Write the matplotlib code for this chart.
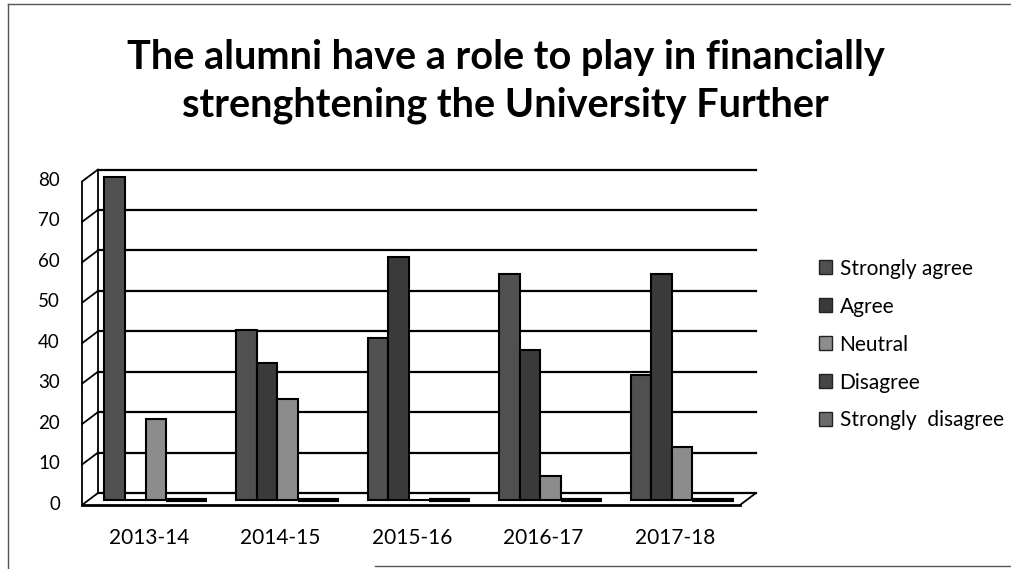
import matplotlib
matplotlib.use('Agg')
import matplotlib.pyplot as plt
import numpy as np
from matplotlib.transforms import offset_copy
from matplotlib.patches import ConnectionPatch, Patch
from matplotlib.lines import Line2D

years = ['2013-14', '2014-15', '2015-16', '2016-17', '2017-18']
responses = ['Strongly agree', 'Agree', 'Neutral', 'Disagree', 'Strongly  disagree']
strongly_agree = [80, 42, 40, 56, 31]
agree = [0, 34, 60, 37, 56]
neutral = [20, 25, 0, 6, 13]
disagree = [0, 0, 0, 0, 0]
strongly_disagree = [0, 0, 0, 0, 0]
yticks = [0, 10, 20, 30, 40, 50, 60, 70, 80]

series = [strongly_agree, agree, neutral, disagree, strongly_disagree]
colors = ['#505050', '#3a3a3a', '#8c8c8c', '#454545', '#6c6c6c']

plt.rcParams['font.family'] = ['Lato', 'DejaVu Sans']

W, H = 1011, 569
fig = plt.figure(figsize=(W / 100, H / 100), dpi=100)
# axes = middle plane of the fake 3d box (where the bars stand)
ax = fig.add_axes([90 / W, 69 / H, 658 / W, 323.5 / H])
ax.set_xlim(-0.5, 4.5)
ax.set_ylim(0, 80)
ax.axis('off')

front = offset_copy(ax.transData, fig=fig, x=-8, y=-5, units='dots')
back = offset_copy(ax.transData, fig=fig, x=8, y=7, units='dots')

# back wall gridlines
for v in yticks:
    ax.plot([-0.5, 4.5], [v, v], transform=back, color='black', lw=1.6, zorder=1, clip_on=False)
    # left wall slants
    ax.add_artist(ConnectionPatch((-0.5, v), (-0.5, v), coordsA=front, coordsB=back,
                                  color='black', lw=1.3, zorder=1))
ax.plot([-0.5, -0.5], [0, 80], transform=front, color='black', lw=1.3, clip_on=False)
ax.plot([-0.5, -0.5], [0, 80], transform=back, color='black', lw=1.3, clip_on=False)

# floor
ax.plot([-0.5, 4.5], [0, 0], transform=front, color='black', lw=2, clip_on=False)
ax.add_artist(ConnectionPatch((4.5, 0), (4.5, 0), coordsA=front, coordsB=back,
                              color='black', lw=1.3, zorder=1))

# bars
x = np.arange(len(years))
bw = 0.156
for j, vals in enumerate(series):
    ax.bar(x + (j - 2) * bw, vals, bw, color=colors[j], edgecolor='black',
           lw=1.5 if max(vals) > 0 else 3, zorder=3, clip_on=False)

# tick labels
ylab_tr = offset_copy(ax.transData, fig=fig, x=-30, y=-4, units='dots')
for v in yticks:
    ax.text(-0.5, v, str(v), transform=ylab_tr, ha='right', va='center', fontsize=13.5)
xlab_tr = offset_copy(ax.transData, fig=fig, x=-7, y=-38, units='dots')
for i, yr in enumerate(years):
    ax.text(i, 0, yr, transform=xlab_tr, ha='center', va='center', fontsize=15)

fig.text(0.5, 1 - 57 / H, 'The alumni have a role to play in financially', ha='center', va='center',
         fontsize=28.5, fontweight='bold')
fig.text(0.5, 1 - 105 / H, 'strenghtening the University Further', ha='center', va='center',
         fontsize=28.5, fontweight='bold')

handles = [Patch(facecolor=c, edgecolor='#222222') for c in colors]
fig.legend(handles, responses, loc='upper left', bbox_to_anchor=(800 / W, 1 - 240 / H),
           frameon=False, fontsize=15, handlelength=0.65, handleheight=0.65,
           handletextpad=0.35, labelspacing=0.86)

# page border
fig.add_artist(Line2D([8 / W, 8 / W], [0, 1 - 4 / H], color='#555555', lw=1))
fig.add_artist(Line2D([8 / W, 1], [1 - 4 / H, 1 - 4 / H], color='#555555', lw=1))
fig.add_artist(Line2D([375 / W, 1], [3 / H, 3 / H], color='#555555', lw=1))

fig.savefig('out.png', dpi=100)
